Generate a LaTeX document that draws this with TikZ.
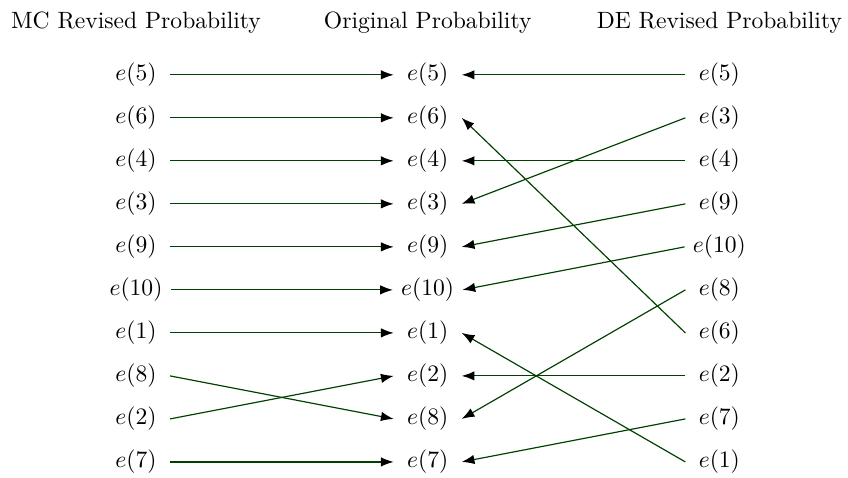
\documentclass[tikz,border=0pt]{standalone}
\usepackage{xcolor}
\usepackage{tikz}
\usetikzlibrary{arrows.meta, positioning}
\definecolor{linkgreen}{RGB}{0,64,0}
\tikzset{
  evt/.style={minimum width=1cm, inner sep=3.33pt},
  head/.style={inner sep=3.33pt},
  link/.style={-{Latex[color=black, length=5.4pt, width=4pt]}, draw=linkgreen, line width=0.5pt}
}
\begin{document}
\begin{tikzpicture}[on grid, node distance=0.641cm and 4.347cm]
\useasboundingbox (-2.027,1.115) rectangle (10.611,-5.994);
% MC revised column
\node[evt] (mc5) {$e(5)$};
\node[evt, below=of mc5] (mc6) {$e(6)$};
\node[evt, below=of mc6] (mc4) {$e(4)$};
\node[evt, below=of mc4] (mc3) {$e(3)$};
\node[evt, below=of mc3] (mc9) {$e(9)$};
\node[evt, below=of mc9] (mc10) {$e(10)$};
\node[evt, below=of mc10] (mc1) {$e(1)$};
\node[evt, below=of mc1] (mc8) {$e(8)$};
\node[evt, below=of mc8] (mc2) {$e(2)$};
\node[evt, below=of mc2] (mc7) {$e(7)$};
% original column
\node[evt, right=of mc5] (org5) {$e(5)$};
\node[evt, below=of org5] (org6) {$e(6)$};
\node[evt, below=of org6] (org4) {$e(4)$};
\node[evt, below=of org4] (org3) {$e(3)$};
\node[evt, below=of org3] (org9) {$e(9)$};
\node[evt, below=of org9] (org10) {$e(10)$};
\node[evt, below=of org10] (org1) {$e(1)$};
\node[evt, below=of org1] (org2) {$e(2)$};
\node[evt, below=of org2] (org8) {$e(8)$};
\node[evt, below=of org8] (org7) {$e(7)$};
% DE revised column
\node[evt, right=of org5] (de5) {$e(5)$};
\node[evt, below=of de5] (de3) {$e(3)$};
\node[evt, below=of de3] (de4) {$e(4)$};
\node[evt, below=of de4] (de9) {$e(9)$};
\node[evt, below=of de9] (de10) {$e(10)$};
\node[evt, below=of de10] (de8) {$e(8)$};
\node[evt, below=of de8] (de6) {$e(6)$};
\node[evt, below=of de6] (de2) {$e(2)$};
\node[evt, below=of de2] (de7) {$e(7)$};
\node[evt, below=of de7] (de1) {$e(1)$};
% headings
\node[head, above=0.78cm of mc5] (mchead) {MC Revised Probability};
\node[head, above=0.78cm of org5] (orghead) {Original Probability};
\node[head, above=0.78cm of de5] (dehead) {DE Revised Probability};
% links
\draw[link] (mc5.east)--(org5.west); \draw[link] (mc6.east)--(org6.west);
\draw[link] (mc4.east)--(org4.west); \draw[link] (mc3.east)--(org3.west);
\draw[link] (mc9.east)--(org9.west); \draw[link] (mc10.east)--(org10.west);
\draw[link] (mc1.east)--(org1.west); \draw[link] (mc8.east)--(org8.west);
\draw[link] (mc2.east)--(org2.west); \draw[link] (mc7.east)--(org7.west);
\draw[link] (de5.west)--(org5.east); \draw[link] (de3.west)--(org3.east);
\draw[link] (de4.west)--(org4.east); \draw[link] (de9.west)--(org9.east);
\draw[link] (de10.west)--(org10.east); \draw[link] (de8.west)--(org8.east);
\draw[link] (de6.west)--(org6.east); \draw[link] (de2.west)--(org2.east);
\draw[link] (de7.west)--(org7.east); \draw[link] (de1.west)--(org1.east);
\end{tikzpicture}
\end{document}
